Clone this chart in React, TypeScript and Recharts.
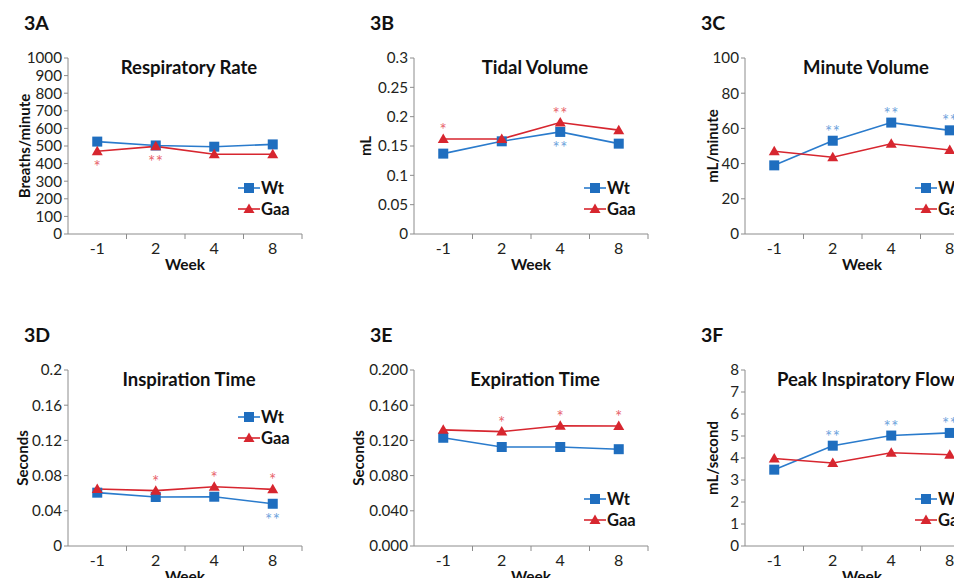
import React from 'react'
import { LineChart, Line, XAxis, YAxis, Legend, LabelList } from 'recharts'

const weeks = ['-1', '2', '4', '8']

const rateWt = [525, 503, 496, 509]
const rateGaa = [470, 498, 453, 453]
const rateTicks = [0, 100, 200, 300, 400, 500, 600, 700, 800, 900, 1000]
const rateTickLabels = ['0', '100', '200', '300', '400', '500', '600', '700', '800', '900', '1000']
const rateSigWt = ['', '', '', '']
const rateSigGaa = ['*', '**', '', '']

const tidalWt = [0.137, 0.158, 0.174, 0.154]
const tidalGaa = [0.162, 0.162, 0.19, 0.177]
const tidalTicks = [0, 0.05, 0.1, 0.15, 0.2, 0.25, 0.3]
const tidalTickLabels = ['0', '0.05', '0.1', '0.15', '0.2', '0.25', '0.3']
const tidalSigWt = ['', '', '**', '']
const tidalSigGaa = ['*', '', '**', '']

const minuteWt = [39, 53, 63.3, 58.9]
const minuteGaa = [47, 43.6, 51.3, 47.7]
const minuteTicks = [0, 20, 40, 60, 80, 100]
const minuteTickLabels = ['0', '20', '40', '60', '80', '100']
const minuteSigWt = ['', '**', '**', '**']
const minuteSigGaa = ['', '', '', '']

const inspWt = [0.0606, 0.0557, 0.056, 0.048]
const inspGaa = [0.0648, 0.0629, 0.0674, 0.0644]
const inspTicks = [0, 0.04, 0.08, 0.12, 0.16, 0.2]
const inspTickLabels = ['0', '0.04', '0.08', '0.12', '0.16', '0.2']
const inspSigWt = ['', '', '', '**']
const inspSigGaa = ['', '*', '*', '*']

const expWt = [0.123, 0.1125, 0.1125, 0.11]
const expGaa = [0.132, 0.13, 0.1367, 0.1364]
const expTicks = [0, 0.04, 0.08, 0.12, 0.16, 0.2]
const expTickLabels = ['0.000', '0.040', '0.080', '0.120', '0.160', '0.200']
const expSigWt = ['', '', '', '']
const expSigGaa = ['', '*', '*', '*']

const peakWt = [3.47, 4.56, 5.02, 5.14]
const peakGaa = [3.98, 3.77, 4.24, 4.15]
const peakTicks = [0, 1, 2, 3, 4, 5, 6, 7, 8]
const peakTickLabels = ['0', '1', '2', '3', '4', '5', '6', '7', '8']
const peakSigWt = ['', '**', '**', '**']
const peakSigGaa = ['', '', '', '']

const FONT = 'Lato, "Open Sans", sans-serif'
const BLUE = '#2a7bcc'
const BLUE_MARK = '#1f6ebf'
const RED = '#d7262f'
const BLUE_SIG = '#6ea3dc'
const RED_SIG = '#e8646c'
const AXIS = '#8c8c8c'
const INK = '#111'

// plot box inside each svg
const W = 322
const H = 290
const PL = 68
const PT = 58
const PW = 234
const PH = 176
const HALF = PW / weeks.length / 2

type PanelProps = {
  tag: string
  title: string
  yLabel: string
  yLabelX: number
  wt: number[]
  gaa: number[]
  ticks: number[]
  tickLabels: string[]
  wtSig: string[]
  gaaSig: string[]
  wtSide: 'above' | 'below'
  gaaSide: 'above' | 'below'
  legendTop: number
  left: number
  top: number
}

const Square = (p: any) => (
  <rect key={`s${p.index}`} x={p.cx - 5} y={p.cy - 5} width={10} height={10} fill={BLUE_MARK} />
)

const Triangle = (p: any) => (
  <polygon
    key={`t${p.index}`}
    points={`${p.cx},${p.cy - 5.5} ${p.cx + 5.5},${p.cy + 4} ${p.cx - 5.5},${p.cy + 4}`}
    fill={RED}
  />
)

const sigLabel = (side: 'above' | 'below', color: string) => (p: any) => {
  if (!p.value) return null
  return (
    <text
      x={p.x}
      y={side === 'above' ? p.y - 3 : p.y + 22}
      textAnchor="middle"
      fontSize={17}
      fontFamily={FONT}
      fill={color}
      letterSpacing={0.5}
    >
      {p.value}
    </text>
  )
}

const WeekTick = (p: any) => (
  <g>
    <line x1={p.x + HALF} y1={PT + PH} x2={p.x + HALF} y2={PT + PH + 5} stroke={AXIS} />
    <text x={p.x} y={PT + PH + 13} textAnchor="middle" dominantBaseline="central" fontSize={16} fontFamily={FONT} fill="#231f20">
      {p.payload.value}
    </text>
  </g>
)

const LegendBox = () => (
  <svg width={80} height={42}>
    <line x1={0} y1={10} x2={22} y2={10} stroke={BLUE} strokeWidth={1.6} />
    <rect x={6} y={5} width={10} height={10} fill={BLUE_MARK} />
    <text x={23} y={15.5} fontSize={16.5} fontWeight={700} fontFamily={FONT} fill={INK}>Wt</text>
    <line x1={0} y1={31} x2={22} y2={31} stroke={RED} strokeWidth={1.6} />
    <polygon points="11,25.5 16.5,35 5.5,35" fill={RED} />
    <text x={23} y={36.5} fontSize={16.5} fontWeight={700} fontFamily={FONT} fill={INK}>Gaa</text>
  </svg>
)

function Panel(props: PanelProps) {
  const data = weeks.map((w, i) => ({
    week: w,
    wt: props.wt[i],
    gaa: props.gaa[i],
    wtSig: props.wtSig[i],
    gaaSig: props.gaaSig[i],
  }))
  const max = props.ticks[props.ticks.length - 1]
  return (
    <div style={{ position: 'absolute', left: props.left, top: props.top }}>
      <LineChart width={W} height={H} data={data} margin={{ top: PT, right: W - PL - PW, bottom: H - PT - PH - 40, left: PL - 60 }}>
        <XAxis
          dataKey="week"
          scale="band"
          height={40}
          interval={0}
          tickLine={false}
          axisLine={{ stroke: AXIS }}
          tick={<WeekTick />}
        />
        <YAxis
          type="number"
          width={60}
          domain={[0, max]}
          ticks={props.ticks}
          interval={0}
          tickSize={4}
          tickMargin={2}
          axisLine={{ stroke: AXIS }}
          tickLine={{ stroke: AXIS }}
          tick={{ fill: '#231f20', fontSize: 15.2, fontFamily: FONT }}
          tickFormatter={(v: number) => props.tickLabels[props.ticks.indexOf(v)] ?? String(v)}
        />
        <Legend
          layout="horizontal"
          verticalAlign="middle"
          align="center"
          content={<LegendBox />}
          wrapperStyle={{ left: PL + 170, top: props.legendTop, width: 80, height: 42 }}
        />
        <Line
          dataKey="wt"
          name="Wt"
          stroke={BLUE}
          strokeWidth={1.6}
          dot={Square}
          activeDot={false}
          isAnimationActive={false}
        >
          <LabelList dataKey="wtSig" content={sigLabel(props.wtSide, BLUE_SIG)} />
        </Line>
        <Line
          dataKey="gaa"
          name="Gaa"
          stroke={RED}
          strokeWidth={1.6}
          dot={Triangle}
          activeDot={false}
          isAnimationActive={false}
        >
          <LabelList dataKey="gaaSig" content={sigLabel(props.gaaSide, RED_SIG)} />
        </Line>
        <text x={24} y={30} fontSize={19.5} fontWeight={700} fontFamily={FONT} fill={INK}>{props.tag}</text>
        <text x={189} y={74} textAnchor="middle" fontSize={18.5} fontWeight={700} fontFamily={FONT} fill={INK}>{props.title}</text>
        <text
          x={props.yLabelX}
          y={146}
          transform={`rotate(-90, ${props.yLabelX}, 146)`}
          textAnchor="middle"
          dominantBaseline="central"
          fontSize={15}
          fontWeight={700}
          fontFamily={FONT}
          fill={INK}
        >
          {props.yLabel}
        </text>
        <text x={PL + PW / 2} y={270} textAnchor="middle" fontSize={15.5} fontWeight={700} fontFamily={FONT} fill={INK}>Week</text>
      </LineChart>
    </div>
  )
}

export default function App() {
  return (
    <div style={{ position: 'fixed', left: 0, top: 0, width: 954, height: 578, overflow: 'hidden', background: '#fff' }}>
      <Panel tag="3A" title="Respiratory Rate" yLabel="Breaths/minute" yLabelX={24} wt={rateWt} gaa={rateGaa}
        ticks={rateTicks} tickLabels={rateTickLabels} wtSig={rateSigWt} gaaSig={rateSigGaa}
        wtSide="above" gaaSide="below" legendTop={178} left={0} top={0} />
      <Panel tag="3B" title="Tidal Volume" yLabel="mL" yLabelX={19} wt={tidalWt} gaa={tidalGaa}
        ticks={tidalTicks} tickLabels={tidalTickLabels} wtSig={tidalSigWt} gaaSig={tidalSigGaa}
        wtSide="below" gaaSide="above" legendTop={178} left={346} top={0} />
      <Panel tag="3C" title="Minute Volume" yLabel="mL/minute" yLabelX={35} wt={minuteWt} gaa={minuteGaa}
        ticks={minuteTicks} tickLabels={minuteTickLabels} wtSig={minuteSigWt} gaaSig={minuteSigGaa}
        wtSide="above" gaaSide="below" legendTop={178} left={677} top={0} />
      <Panel tag="3D" title="Inspiration Time" yLabel="Seconds" yLabelX={22} wt={inspWt} gaa={inspGaa}
        ticks={inspTicks} tickLabels={inspTickLabels} wtSig={inspSigWt} gaaSig={inspSigGaa}
        wtSide="below" gaaSide="above" legendTop={95} left={0} top={312} />
      <Panel tag="3E" title="Expiration Time" yLabel="Seconds" yLabelX={12} wt={expWt} gaa={expGaa}
        ticks={expTicks} tickLabels={expTickLabels} wtSig={expSigWt} gaaSig={expSigGaa}
        wtSide="below" gaaSide="above" legendTop={177} left={346} top={312} />
      <Panel tag="3F" title="Peak Inspiratory Flow" yLabel="mL/second" yLabelX={35} wt={peakWt} gaa={peakGaa}
        ticks={peakTicks} tickLabels={peakTickLabels} wtSig={peakSigWt} gaaSig={peakSigGaa}
        wtSide="above" gaaSide="below" legendTop={177} left={677} top={312} />
    </div>
  )
}
